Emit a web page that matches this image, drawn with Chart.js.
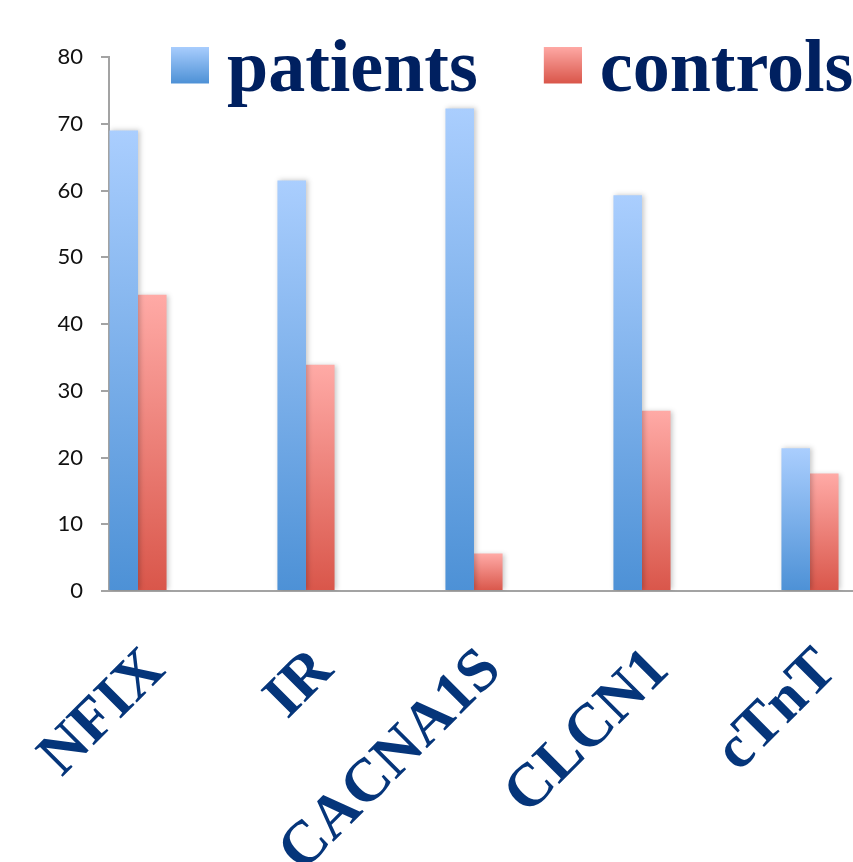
<!DOCTYPE html>
<html>
<head>
<meta charset="utf-8">
<script src="https://cdn.jsdelivr.net/npm/chart.js@4"></script>
<style>
  body { margin: 0; background: #fff; overflow: hidden; }
</style>
</head>
<body>
<canvas id="geneChart" width="853" height="862"></canvas>
<script>
const genes = ['NFIX', 'IR', 'CACNA1S', 'CLCN1', 'cTnT'];
const patients = [69.0, 61.5, 72.3, 59.3, 21.4];
const controls = [44.4, 33.9, 5.6, 27.0, 17.6];
const yTicks = [0, 10, 20, 30, 40, 50, 60, 70, 80];

const navy = '#002060';
const labelBlue = '#05357a';
const blueTop = '#aacefe', blueBottom = '#4d91d6';
const redTop = '#ffaaa6', redBottom = '#d9564a';

// vertical gradient for each bar, from its top down to zero
function barFill(top, bottom) {
  return (ctx) => {
    const chart = ctx.chart;
    if (ctx.type !== 'data' || !chart.scales.y) return bottom;
    const y = chart.scales.y;
    const y0 = y.getPixelForValue(ctx.parsed ? ctx.parsed.y : ctx.raw.y);
    const y1 = y.getPixelForValue(0);
    const g = chart.ctx.createLinearGradient(0, y0, 0, y1);
    g.addColorStop(0, top);
    g.addColorStop(1, bottom);
    return g;
  };
}

// legend swatch: a gradient square, padded so it sits a bit right and up of its slot
function swatch(top, bottom) {
  const c = document.createElement('canvas');
  c.width = 76; c.height = 51;
  const g2 = c.getContext('2d');
  const g = g2.createLinearGradient(0, 0, 0, 37);
  g.addColorStop(0, top);
  g.addColorStop(1, bottom);
  g2.fillStyle = g;
  g2.fillRect(38, 0, 38, 37);
  return c;
}

const barShadow = {
  id: 'barShadow',
  beforeDatasetsDraw(chart) {
    const c = chart.ctx;
    c.save();
    c.shadowColor = 'rgba(0,0,0,0.22)';
    c.shadowBlur = 5;
    c.shadowOffsetX = 2;
    c.shadowOffsetY = 0;
  },
  afterDatasetsDraw(chart) {
    chart.ctx.restore();
  }
};

// legend sits over the top of the plot, so it takes no layout space
const floatLegend = {
  id: 'floatLegend',
  beforeLayout(chart) {
    const lg = chart.legend;
    if (lg && !lg._floating) {
      const fit = lg.fit.bind(lg);
      lg.fit = function () { fit(); this.height = 0; };
      lg._floating = true;
    }
  },
  afterLayout(chart) {
    const lg = chart.legend;
    if (lg) { lg.top = -12; lg.bottom = 120; lg.left = 105; lg.right = 1000; }
  }
};

const ctx = document.getElementById('geneChart').getContext('2d');

new Chart(ctx, {
  type: 'bar',
  data: {
    datasets: [{
      label: 'patients',
      data: patients.map((v, i) => ({ x: i, y: v })),
      backgroundColor: barFill(blueTop, blueBottom),
      categoryPercentage: 0.34,
      barPercentage: 1
    }, {
      label: 'controls',
      data: controls.map((v, i) => ({ x: i, y: v })),
      backgroundColor: barFill(redTop, redBottom),
      categoryPercentage: 0.34,
      barPercentage: 1
    }]
  },
  options: {
    responsive: false,
    animation: false,
    devicePixelRatio: 1,
    layout: { padding: { top: 57, right: 0, left: 0, bottom: 0 } },
    plugins: {
      tooltip: { enabled: false },
      legend: {
        position: 'top',
        align: 'start',
        labels: {
          usePointStyle: true,
          boxWidth: 38,
          boxHeight: 37,
          padding: 47,
          color: navy,
          font: { family: 'Liberation Serif', size: 74, weight: 'bold' },
          generateLabels: () => [
            { text: 'patients', pointStyle: swatch(blueTop, blueBottom), fillStyle: blueTop, strokeStyle: 'transparent', lineWidth: 0, datasetIndex: 0, fontColor: navy },
            { text: 'controls', pointStyle: swatch(redTop, redBottom), fillStyle: redTop, strokeStyle: 'transparent', lineWidth: 0, datasetIndex: 1, fontColor: navy }
          ]
        }
      }
    },
    scales: {
      x: {
        type: 'linear',
        offset: false,
        min: -0.1726,
        max: 4.256,
        afterFit: (s) => { s.height = 271; s.paddingLeft = 0; s.paddingRight = 0; },
        grid: { display: true, offset: false, drawOnChartArea: false, drawTicks: false },
        border: { display: true, color: '#a3a3a3', width: 2 },
        ticks: {
          stepSize: 1,
          includeBounds: false,
          autoSkip: false,
          minRotation: 45,
          maxRotation: 45,
          padding: 44,
          labelOffset: 18,
          color: labelBlue,
          font: { family: 'Liberation Serif', size: 61, weight: 'bold' },
          callback: (v) => genes[v] ?? ''
        }
      },
      y: {
        min: 0,
        max: 80,
        afterFit: (s) => { s.width = 109; },
        afterBuildTicks: (s) => { s.ticks = yTicks.map(v => ({ value: v })); },
        grid: { drawOnChartArea: false, drawTicks: true, tickLength: 8, color: '#a3a3a3', lineWidth: 2 },
        border: { display: true, color: '#a3a3a3', width: 2 },
        ticks: {
          padding: 18,
          color: '#111',
          font: { family: 'Lato', size: 22 }
        }
      }
    }
  },
  plugins: [barShadow, floatLegend]
});
</script>
</body>
</html>
